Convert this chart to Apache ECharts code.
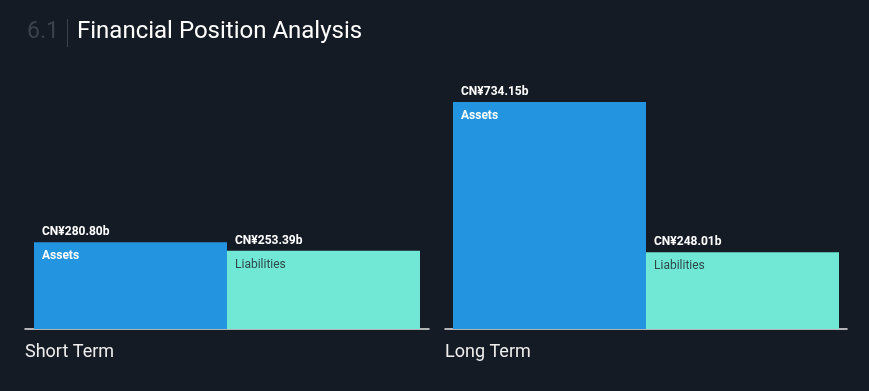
<!DOCTYPE html>
<html><head><meta charset="utf-8">
<script src="https://cdn.jsdelivr.net/npm/echarts@6/dist/echarts.min.js"></script>
<style>html,body{margin:0;padding:0;background:#151b24;}#c{width:869px;height:391px;}</style>
</head><body><div id="c"></div>
<script>
const categories = ['Short Term', 'Long Term'];
const seriesNames = ['Assets', 'Liabilities'];
const assets = [280.80, 734.15];
const liabilities = [253.39, 248.01];

const maxVal = Math.max(...assets, ...liabilities);
const chart = echarts.init(document.getElementById('c'));
const font = 'Roboto, "Noto Sans", sans-serif';
const grids = [
  {left: 25, width: 404, top: 102, bottom: 62},
  {left: 445, width: 402, top: 102, bottom: 62}
];
const fmt = v => 'CN¥' + v.toFixed(2) + 'b';
const series = [];
categories.forEach((cat, i) => {
  [assets, liabilities].forEach((arr, j) => {
    series.push({
      type: 'bar', name: seriesNames[j], xAxisIndex: i, yAxisIndex: i,
      data: [arr[i]], barWidth: 193, barGap: '0%',
      itemStyle: {color: j === 0 ? '#2394df' : '#71e7d6'},
      label: {
        show: true, position: [8, -22], align: 'left', verticalAlign: 'top',
        formatter: p => '{v|' + fmt(p.value) + '}\n{n|' + seriesNames[j] + '}',
        rich: {
          v: {fontFamily: font, fontSize: 12, fontWeight: 'bold', color: '#ffffff', lineHeight: 24},
          n: {fontFamily: font, fontSize: 12, fontWeight: j === 0 ? 'bold' : 'normal',
              color: j === 0 ? '#ffffff' : '#2c4a4a', lineHeight: 24}
        }
      },
      emphasis: {disabled: true}, silent: true, animation: false
    });
  });
});
chart.setOption({
  backgroundColor: '#151b24',
  animation: false,
  title: categories.map((c, i) => ({
    text: c, left: grids[i].left, top: 343, padding: 0,
    textStyle: {fontFamily: font, fontSize: 18, fontWeight: 'normal', color: '#eeeeee'}
  })),
  grid: grids,
  xAxis: categories.map((c, i) => ({
    type: 'category', gridIndex: i, data: [c],
    axisLine: {show: true, lineStyle: {color: '#e6e6e6', width: 1.5}},
    axisTick: {show: false}, axisLabel: {show: false}
  })),
  yAxis: categories.map((c, i) => ({
    type: 'value', gridIndex: i, min: 0, max: maxVal, show: false, splitLine: {show: false}
  })),
  series: series,
  graphic: [
    {type: 'text', left: 27, top: 21, style: {text: '6.1', fontFamily: font, fontSize: 23, fill: '#3b424e'}},
    {type: 'rect', shape: {x: 67, y: 19, width: 1, height: 28}, style: {fill: '#3b424e'}},
    {type: 'text', left: 77, top: 20, style: {text: 'Financial Position Analysis', fontFamily: font, fontSize: 24, fill: '#ffffff'}}
  ]
});
</script></body></html>
